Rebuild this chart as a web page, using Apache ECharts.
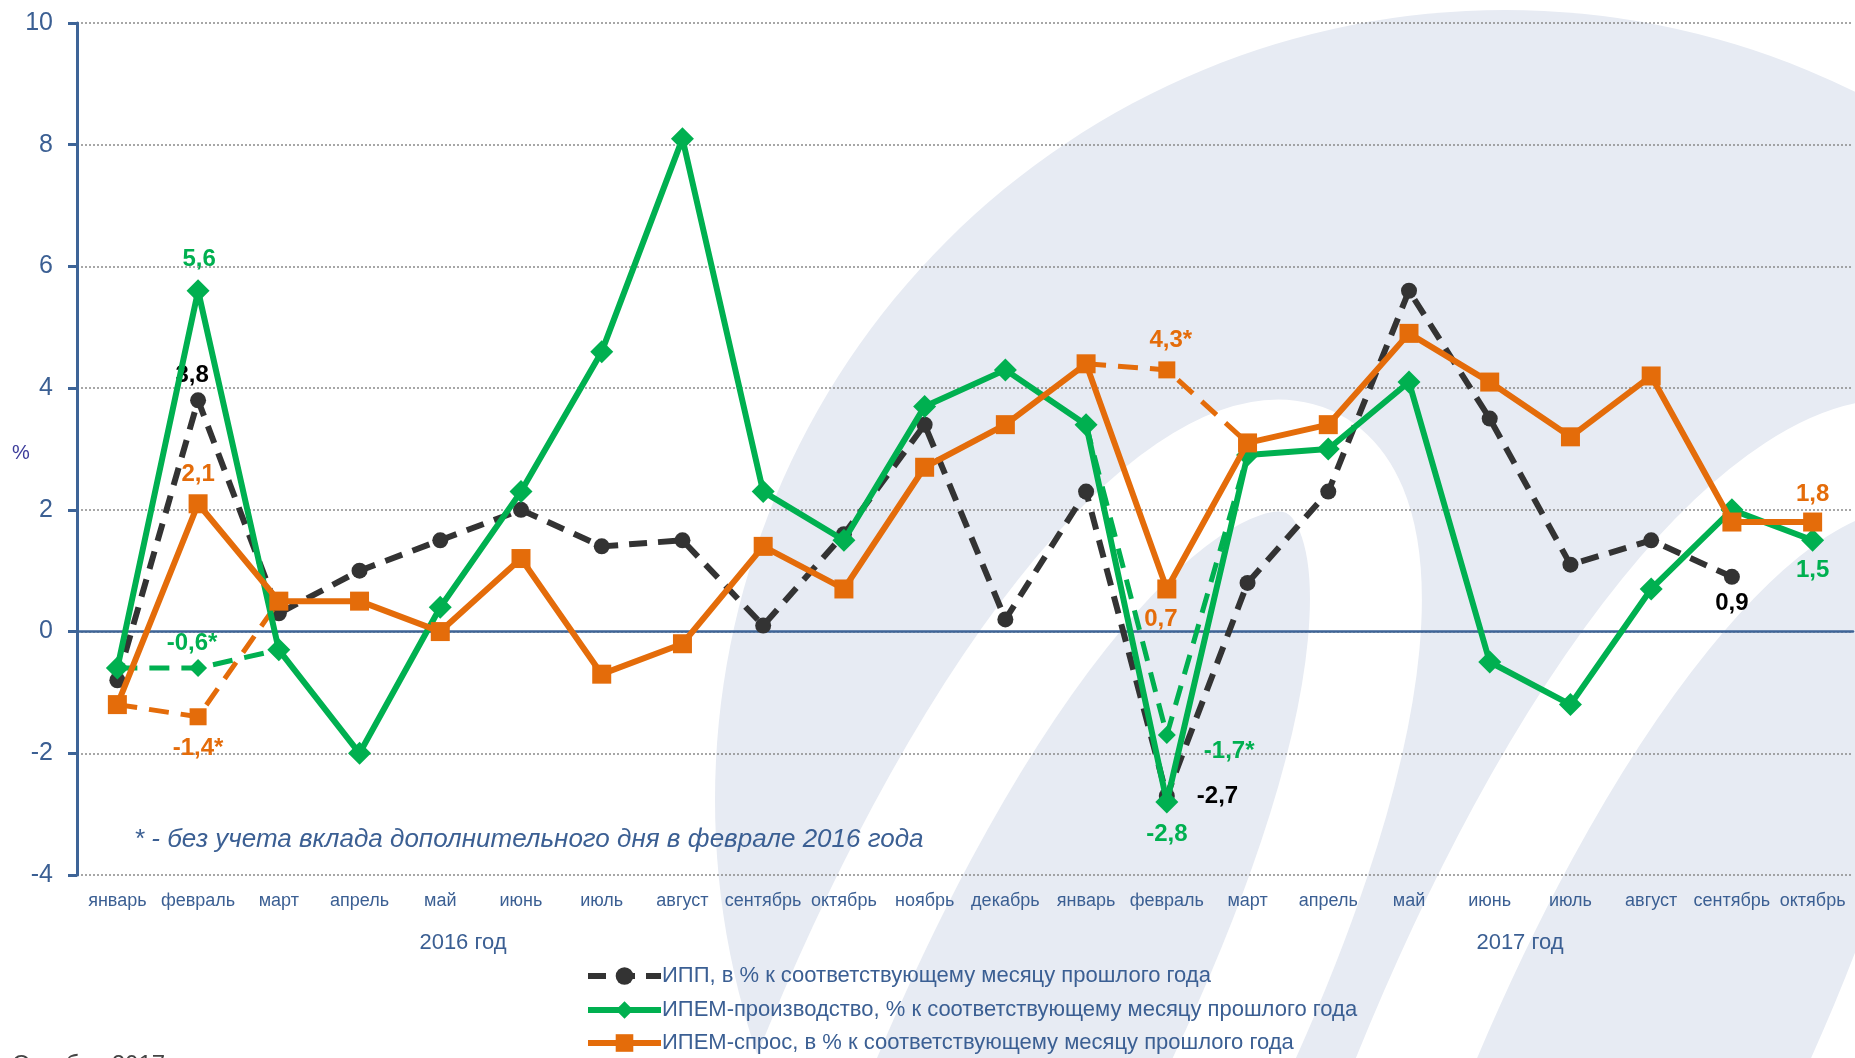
<!DOCTYPE html>
<html>
<head>
<meta charset="utf-8">
<script src="https://cdn.jsdelivr.net/npm/echarts@6/dist/echarts.min.js"></script>
<style>
  html, body { margin: 0; padding: 0; background: #fff; }
  #chart { width: 1855px; height: 1058px; }
</style>
</head>
<body>
<div id="chart"></div>
<script>
var months = ['январь', 'февраль', 'март', 'апрель', 'май', 'июнь', 'июль', 'август', 'сентябрь', 'октябрь', 'ноябрь', 'декабрь',
    'январь', 'февраль', 'март', 'апрель', 'май', 'июнь', 'июль', 'август', 'сентябрь', 'октябрь'];

// ИПП
var ipp = [-0.8, 3.8, 0.3, 1.0, 1.5, 2.0, 1.4, 1.5, 0.1, 1.6, 3.4, 0.2, 2.3, -2.7, 0.8, 2.3, 5.6, 3.5, 1.1, 1.5, 0.9, null];
// ИПЕМ-производство
var prod = [-0.6, 5.6, -0.3, -2.0, 0.4, 2.3, 4.6, 8.1, 2.3, 1.5, 3.7, 4.3, 3.4, -2.8, 2.9, 3.0, 4.1, -0.5, -1.2, 0.7, 2.0, 1.5];
// ИПЕМ-спрос
var demand = [-1.2, 2.1, 0.5, 0.5, 0.0, 1.2, -0.7, -0.2, 1.4, 0.7, 2.7, 3.4, 4.4, 0.7, 3.1, 3.4, 4.9, 4.1, 3.2, 4.2, 1.8, 1.8];
// без учета дополнительного дня (пунктир)
var prodAdj = [-0.6, -0.6, -0.3, null, null, null, null, null, null, null, null, null, 3.4, -1.7, 2.9, null, null, null, null, null, null, null];
var demandAdj = [-1.2, -1.4, 0.5, null, null, null, null, null, null, null, null, null, 4.4, 4.3, 3.1, null, null, null, null, null, null, null];

var yTicks = { min: -4, max: 10, step: 2 };

var names = ['ИПП, в % к соответствующему месяцу прошлого года',
    'ИПЕМ-производство, % к соответствующему месяцу прошлого года',
    'ИПЕМ-спрос, в % к соответствующему месяцу прошлого года'];

var GREEN = '#00b050', ORANGE = '#e46c0a', DARK = '#333333', BLUE = '#3b5f93';
var NARROW = "'Liberation Sans Narrow', 'Liberation Sans', Arial, sans-serif";
var BOLD = "'Liberation Sans', Arial, sans-serif";

function fmt(star) {
    return function (p) {
        return p.value.toFixed(1).replace('.', ',') + (star ? '*' : '');
    };
}

// подписи точек: индекс -> настройки
function withLabels(arr, labels, color, star) {
    return arr.map(function (v, i) {
        if (v == null || !labels[i]) return v;
        var l = labels[i];
        return {
            value: v,
            label: {
                show: true,
                position: l.pos,
                distance: l.dist,
                offset: l.off || [0, 0],
                color: color,
                fontFamily: BOLD,
                fontWeight: 'bold',
                fontSize: 24,
                formatter: fmt(star)
            }
        };
    });
}

function legendRow(name, top) {
    return {
        orient: 'vertical',
        left: 585,
        top: top,
        padding: 0,
        itemWidth: 73,
        itemHeight: 22,
        data: [name],
        lineStyle: { width: 6 },
        textStyle: { color: BLUE, fontSize: 22, fontFamily: NARROW, padding: [0, 0, 0, -4] }
    };
}

var chart = echarts.init(document.getElementById('chart'), null, { renderer: 'canvas' });

var option = {
    animation: false,
    backgroundColor: '#fff',
    graphic: [
        // фоновый логотип
        { type: 'circle', z: -20, silent: true, shape: { cx: 1505, cy: 800, r: 790 }, style: { fill: '#e7ebf3' } },
        { type: 'bezierCurve', z: -19, silent: true,
          shape: { x1: 780, y1: 1150, cpx1: 1150, cpy1: 170, cpx2: 1630, cpy2: 280, x2: 1190, y2: 1150 },
          style: { stroke: '#fff', lineWidth: 112, fill: null } },
        { type: 'bezierCurve', z: -19, silent: true,
          shape: { x1: 1380, y1: 1150, cpx1: 1750, cpy1: 170, cpx2: 2250, cpy2: 280, x2: 1830, y2: 1150 },
          style: { stroke: '#fff', lineWidth: 112, fill: null } },
        { type: 'text', x: 21, y: 453, style: { text: '%', fill: '#3b3b9a', font: "20px " + NARROW, textAlign: 'center', textVerticalAlign: 'middle' } },
        { type: 'text', x: 463, y: 943, style: { text: '2016 год', fill: BLUE, font: "22px " + NARROW, textAlign: 'center', textVerticalAlign: 'middle' } },
        { type: 'text', x: 1520, y: 943, style: { text: '2017 год', fill: BLUE, font: "22px " + NARROW, textAlign: 'center', textVerticalAlign: 'middle' } },
        { type: 'text', x: 134, y: 840, style: { text: '* - без учета вклада дополнительного дня в феврале 2016 года', fill: BLUE, font: "italic 26px " + NARROW, textAlign: 'left', textVerticalAlign: 'middle' } },
        { type: 'text', x: 12, y: 1053, style: { text: 'Октябрь 2017', fill: '#444', font: "24px " + BOLD, textAlign: 'left', textVerticalAlign: 'top' } }
    ],
    grid: { left: 77, right: 2, top: 23, bottom: 183, containLabel: false },
    legend: [
        legendRow(names[0], 965),
        legendRow(names[1], 999),
        legendRow(names[2], 1032)
    ],
    xAxis: [{
        type: 'category',
        data: months,
        boundaryGap: true,
        axisLine: { onZero: true, lineStyle: { color: '#3e6497', width: 2.5 } },
        axisTick: { inside: true, length: 6, lineStyle: { color: '#3e6497', width: 2 } },
        axisLabel: { show: false },
        splitLine: { show: false }
    }, {
        type: 'category',
        data: months,
        position: 'bottom',
        boundaryGap: true,
        axisLine: { show: false, onZero: false },
        axisTick: { show: false },
        axisLabel: { interval: 0, color: BLUE, fontSize: 18, fontFamily: NARROW, margin: 17 },
        splitLine: { show: false }
    }],
    yAxis: {
        type: 'value',
        min: yTicks.min,
        max: yTicks.max,
        interval: yTicks.step,
        axisLine: { show: true, lineStyle: { color: '#3e6497', width: 3 } },
        axisTick: { show: true, length: 9, lineStyle: { color: '#3e6497', width: 3 } },
        axisLabel: { color: BLUE, fontSize: 25, fontFamily: NARROW, margin: 24 },
        splitLine: { lineStyle: { color: '#8a8a8a', type: [2, 2], width: 1.5 } }
    },
    series: [{
        name: names[0],
        type: 'line',
        data: withLabels(ipp, {
            1: { pos: 'top', dist: 5, off: [-6, 0] },
            13: { pos: 'right', dist: 22 },
            20: { pos: 'bottom', dist: 7 }
        }, '#000', false),
        symbol: 'circle',
        symbolSize: 16,
        itemStyle: { color: DARK },
        lineStyle: { color: DARK, width: 6, type: [18, 11] },
        z: 2
    }, {
        name: 'prodAdj',
        type: 'line',
        data: withLabels(prodAdj, {
            1: { pos: 'top', dist: 4, off: [-6, 0] },
            13: { pos: 'right', dist: 22, off: [6, 16] }
        }, GREEN, true),
        symbol: 'diamond',
        symbolSize: 18,
        itemStyle: { color: GREEN },
        lineStyle: { color: GREEN, width: 5, type: [20, 12] },
        z: 3
    }, {
        name: 'demandAdj',
        type: 'line',
        data: withLabels(demandAdj, {
            1: { pos: 'bottom', dist: 11 },
            13: { pos: 'top', dist: 9, off: [4, 0] }
        }, ORANGE, true),
        symbol: 'rect',
        symbolSize: 17,
        itemStyle: { color: ORANGE },
        lineStyle: { color: ORANGE, width: 5, type: [20, 12] },
        z: 3
    }, {
        name: names[1],
        type: 'line',
        data: withLabels(prod, {
            1: { pos: 'top', dist: 8, off: [1, 0] },
            13: { pos: 'bottom', dist: 9 },
            21: { pos: 'bottom', dist: 7 }
        }, GREEN, false),
        symbol: 'diamond',
        symbolSize: 23,
        itemStyle: { color: GREEN },
        lineStyle: { color: GREEN, width: 6 },
        z: 4
    }, {
        name: names[2],
        type: 'line',
        data: withLabels(demand, {
            1: { pos: 'top', dist: 8 },
            13: { pos: 'bottom', dist: 9, off: [-6, 0] },
            21: { pos: 'top', dist: 6 }
        }, ORANGE, false),
        symbol: 'rect',
        symbolSize: 19,
        itemStyle: { color: ORANGE },
        lineStyle: { color: ORANGE, width: 6 },
        z: 5
    }]
};

chart.setOption(option);
</script>
</body>
</html>
